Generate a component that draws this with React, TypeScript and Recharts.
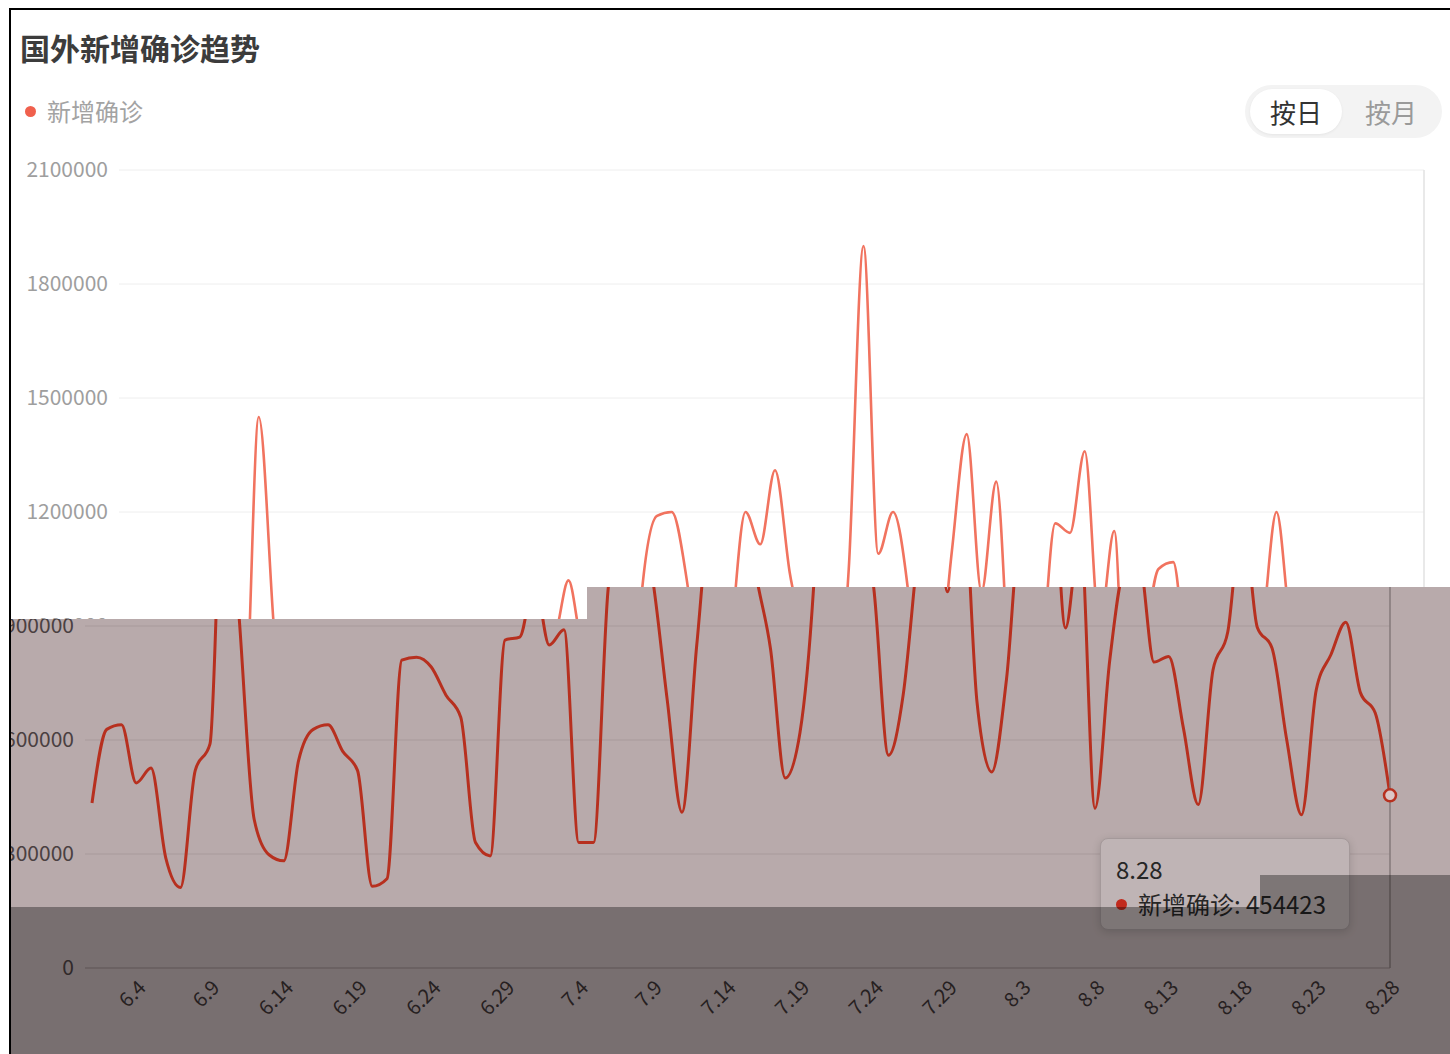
import React from 'react';
import { LineChart, Line, XAxis, YAxis, CartesianGrid, Tooltip, ReferenceLine } from 'recharts';

const FONT = '"Noto Sans CJK SC", "Noto Sans", sans-serif';

const title = '国外新增确诊趋势';
const seriesName = '新增确诊';
const toggleLabels = ['按日', '按月'];

const dates = [
  '6.1', '6.2', '6.3', '6.4', '6.5', '6.6', '6.7', '6.8', '6.9', '6.10',
  '6.11', '6.12', '6.13', '6.14', '6.15', '6.16', '6.17', '6.18', '6.19', '6.20',
  '6.21', '6.22', '6.23', '6.24', '6.25', '6.26', '6.27', '6.28', '6.29', '6.30',
  '7.1', '7.2', '7.3', '7.4', '7.5', '7.6', '7.7', '7.8', '7.9', '7.10',
  '7.11', '7.12', '7.13', '7.14', '7.15', '7.16', '7.17', '7.18', '7.19', '7.20',
  '7.21', '7.22', '7.23', '7.24', '7.25', '7.26', '7.27', '7.28', '7.29', '7.30',
  '7.31', '8.1', '8.2', '8.3', '8.4', '8.5', '8.6', '8.7', '8.8', '8.9',
  '8.10', '8.11', '8.12', '8.13', '8.14', '8.15', '8.16', '8.17', '8.18', '8.19',
  '8.20', '8.21', '8.22', '8.23', '8.24', '8.25', '8.26', '8.27', '8.28',
];

const newCases = [
  434000, 628000, 640000, 487000, 526000, 290000, 212000, 520000, 590000, 1450000,
  910000, 390000, 298000, 282000, 545000, 628000, 640000, 570000, 520000, 215000,
  235000, 810000, 818000, 792000, 718000, 660000, 330000, 295000, 863000, 871000,
  1020000, 850000, 890000, 330000, 330000, 1000000, 1190000, 1200000, 1026000, 705000,
  410000, 850000, 1200000, 1115000, 1310000, 1040000, 840000, 500000, 620000, 1050000,
  1900000, 1090000, 1200000, 1000000, 560000, 720000, 1100000, 1405000, 990000, 1280000,
  700000, 516000, 760000, 1170000, 1145000, 1360000, 895000, 1150000, 420000, 810000,
  1050000, 1068000, 805000, 820000, 630000, 430000, 784000, 884000, 1200000, 897000,
  842000, 600000, 403000, 732000, 825000, 910000, 724000, 671000, 454423,
];

const xTickLabels = ['6.4', '6.9', '6.14', '6.19', '6.24', '6.29', '7.4', '7.9', '7.14', '7.19', '7.24', '7.29', '8.3', '8.8', '8.13', '8.18', '8.23', '8.28'];
const yTicks = [0, 300000, 600000, 900000, 1200000, 1500000, 1800000, 2100000];
const hoverIndex = 88;

const data = dates.map((d, i) => ({ date: d, value: newCases[i] }));

type Theme = {
  grid: string; axis: string; xText: string; yText: string; line: string; lineWidth: number; cursor: string;
};

const upperTheme: Theme = {
  grid: '#eeeeee', axis: '#e0e0e0', xText: '#999999', yText: '#9e9e9e', line: '#f1735f', lineWidth: 2.6, cursor: '#e2e2e2',
};
const lowerTheme: Theme = {
  grid: '#a89a9b', axis: '#978889', xText: '#3b3233', yText: '#4a4041', line: '#b7301f', lineWidth: 3, cursor: '#85797a',
};

const XTick = (props: any) => {
  const { x, y, payload, fill } = props;
  return (
    <g transform={`translate(${x + 6},${y})`}>
      <text textAnchor="end" dy="0.35em" transform="rotate(-45)" fill={fill} fontSize={20} fontFamily={FONT}>
        {payload.value}
      </text>
    </g>
  );
};

const TipBox = (props: any) => {
  const { active, payload, label } = props;
  if (!active || !payload || !payload.length) return null;
  return (
    <div
      style={{
        width: 218, height: 70, padding: '12px 15px 8px 15px', background: '#bfb4b5', border: '1px solid #a4999a',
        borderRadius: 8, boxShadow: '0 2px 8px rgba(0,0,0,0.15)', fontFamily: FONT, color: '#262626',
      }}
    >
      <div style={{ height: 36, lineHeight: '36px', fontSize: 24 }}>{label}</div>
      <div style={{ height: 34, lineHeight: '34px', fontSize: 24, display: 'flex', alignItems: 'center' }}>
        <span style={{ display: 'inline-block', width: 11, height: 11, borderRadius: 6, background: '#c22a1d', marginRight: 11 }} />
        <span>{`${seriesName}: ${payload[0].value}`}</span>
      </div>
    </div>
  );
};

function Trend({ theme, withTooltip }: { theme: Theme; withTooltip?: boolean }) {
  return (
    <LineChart width={1450} height={1054} data={data} margin={{ top: 170, right: 26, bottom: 16, left: 0 }}>
      <CartesianGrid vertical={false} stroke={theme.grid} />
      <XAxis
        dataKey="date"
        ticks={xTickLabels}
        interval={0}
        tickLine={false}
        axisLine={{ stroke: theme.axis }}
        tickSize={0}
        tickMargin={16}
        height={70}
        padding={{ left: 7, right: 0 }}
        tick={(p: any) => <XTick {...p} fill={theme.xText} />}
      />
      <YAxis
        width={119}
        domain={[0, 2100000]}
        ticks={yTicks}
        interval={0}
        axisLine={false}
        tickLine={false}
        tickSize={0}
        tickMargin={11}
        tick={{ fill: theme.yText, fontSize: 21, fontFamily: FONT }}
      />
      {!withTooltip && <ReferenceLine x={dates[hoverIndex]} stroke={theme.cursor} strokeWidth={1.5} />}
      {withTooltip && (
        <Tooltip
          active
          defaultIndex={hoverIndex}
          position={{ x: 1134, y: 838 }}
          cursor={{ stroke: theme.cursor, strokeWidth: 1.5 }}
          content={<TipBox />}
          isAnimationActive={false}
          wrapperStyle={{ outline: 'none' }}
        />
      )}
      <Line
        type="monotone"
        dataKey="value"
        name={seriesName}
        stroke={theme.line}
        strokeWidth={theme.lineWidth}
        dot={false}
        activeDot={withTooltip ? { r: 6, fill: '#dcc6c6', stroke: theme.line, strokeWidth: 2.5 } : false}
        isAnimationActive={false}
      />
    </LineChart>
  );
}

export default function App() {
  return (
    <div style={{ position: 'absolute', left: 0, top: 0, width: 1450, height: 1054, overflow: 'hidden', background: '#fff', fontFamily: FONT }}>
      <div style={{ position: 'absolute', left: 0, top: 0 }}>
        <Trend theme={upperTheme} />
      </div>

      <div style={{ position: 'absolute', left: 20, top: 32, fontSize: 30, fontWeight: 700, color: '#3c3c3c', lineHeight: 1 }}>{title}</div>

      <div style={{ position: 'absolute', left: 25, top: 97, display: 'flex', alignItems: 'center', height: 28 }}>
        <span style={{ display: 'inline-block', width: 11, height: 11, borderRadius: 6, background: '#f0604d', marginRight: 11 }} />
        <span style={{ fontSize: 24, color: '#a3a3a3', lineHeight: 1 }}>{seriesName}</span>
      </div>

      <div style={{ position: 'absolute', left: 1245, top: 85, width: 197, height: 53, borderRadius: 27, background: '#f3f3f3' }}>
        <div
          style={{
            position: 'absolute', left: 5, top: 4, width: 92, height: 45, borderRadius: 23, background: '#fff',
            boxShadow: '0 1px 3px rgba(0,0,0,0.06)', display: 'flex', alignItems: 'center', justifyContent: 'center',
            fontSize: 26, color: '#333',
          }}
        >
          {toggleLabels[0]}
        </div>
        <div
          style={{
            position: 'absolute', left: 100, top: 4, width: 92, height: 45, display: 'flex', alignItems: 'center',
            justifyContent: 'center', fontSize: 26, color: '#9a9a9a',
          }}
        >
          {toggleLabels[1]}
        </div>
      </div>

      <div
        style={{
          position: 'absolute', left: 0, top: 0, width: 1450, height: 1054, background: '#b8aaab',
          clipPath: 'polygon(11px 619px, 587px 619px, 587px 587px, 1450px 587px, 1450px 1054px, 11px 1054px)',
        }}
      >
        <div style={{ position: 'absolute', left: -34, top: 0 }}>
          <Trend theme={lowerTheme} withTooltip />
        </div>
      </div>

      <div style={{ position: 'absolute', left: 11, top: 907, width: 1439, height: 147, background: 'rgba(0,0,0,0.345)' }} />
      <div style={{ position: 'absolute', left: 1260, top: 875, width: 190, height: 32, background: 'rgba(0,0,0,0.345)' }} />

      <div style={{ position: 'absolute', left: 9, top: 8, width: 1460, height: 1100, borderTop: '2px solid #000', borderLeft: '2px solid #000', pointerEvents: 'none' }} />
    </div>
  );
}
